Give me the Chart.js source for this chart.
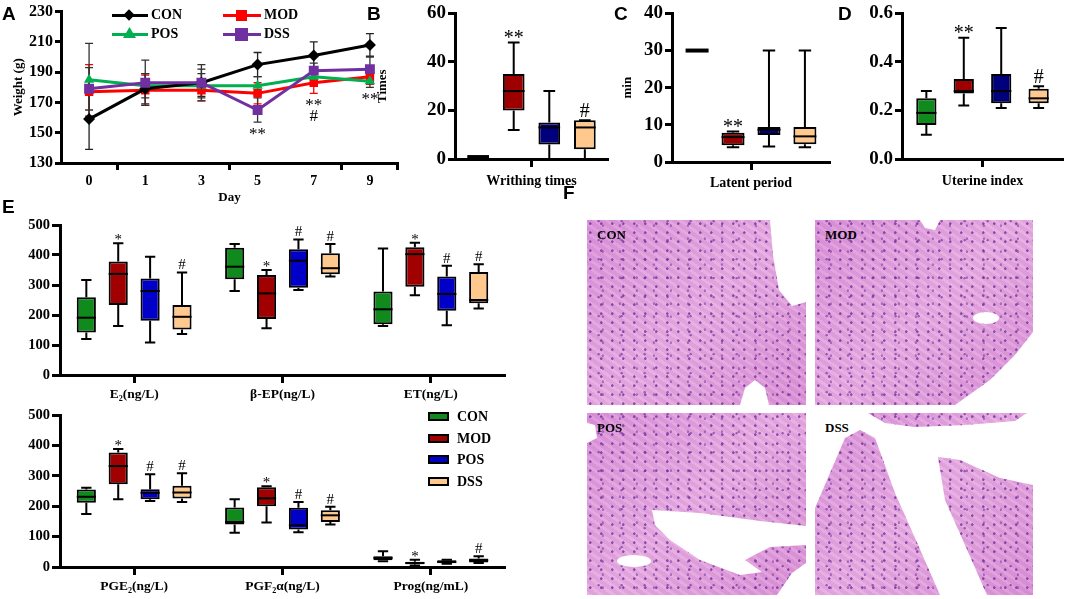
<!DOCTYPE html>
<html>
<head>
<meta charset="utf-8">
<script src="https://cdn.jsdelivr.net/npm/chart.js@4.4.1/dist/chart.umd.min.js"></script>
<style>
body { margin: 0; background: #fff; width: 1065px; height: 599px; position: relative; overflow: hidden; font-family: "Liberation Serif", "Times New Roman", serif; }
.pane { position: absolute; }
.pane canvas { display: block; }
.letter { position: absolute; font: bold 19px "Liberation Sans", Arial, sans-serif; line-height: 19px; }
.leg { position: absolute; font: bold 14px "Liberation Serif", serif; line-height: 16px; }
.lline { position: absolute; height: 3px; }
.mk { position: absolute; }
.sw { position: absolute; width: 17px; height: 5px; border: 2px solid #000; }
.tile { position: absolute; overflow: hidden; }
.tex { background:
  radial-gradient(circle at 30% 40%, rgba(110,45,150,.75) 0 1px, transparent 1.6px) 0 0/11px 9px,
  radial-gradient(circle at 70% 20%, rgba(120,55,165,.55) 0 1px, transparent 1.5px) 4px 3px/17px 13px,
  radial-gradient(circle at 20% 80%, rgba(100,40,150,.6) 0 0.9px, transparent 1.5px) 7px 5px/23px 19px,
  repeating-linear-gradient(35deg, rgba(255,255,255,.12) 0 3px, rgba(200,120,200,.12) 3px 7px),
  linear-gradient(135deg, #d98fd7, #e5a9e0 50%, #d88dd4); }
.white { position: absolute; inset: 0; background: #fff; }
.tissue { position: absolute; inset: 0; }
.tl { position: absolute; left: 10px; top: 7px; font: bold 13px "Liberation Serif", serif; }
</style>
</head>
<body>
<div class="pane" style="left:0;top:0"><canvas id="weight" width="410" height="205"></canvas></div>
<div class="pane" style="left:365px;top:0"><canvas id="writhing" width="248" height="190"></canvas></div>
<div class="pane" style="left:612px;top:0"><canvas id="latent" width="222" height="190"></canvas></div>
<div class="pane" style="left:840px;top:0"><canvas id="uterine" width="225" height="190"></canvas></div>
<div class="pane" style="left:0;top:212px"><canvas id="hormTop" width="512" height="190"></canvas></div>
<div class="pane" style="left:0;top:402px"><canvas id="hormBot" width="512" height="197"></canvas></div>

<div class="letter" style="left:2px;top:4px">A</div>
<div class="letter" style="left:367px;top:4px">B</div>
<div class="letter" style="left:614px;top:4px">C</div>
<div class="letter" style="left:838px;top:4px">D</div>
<div class="letter" style="left:2px;top:197px">E</div>
<div class="letter" style="left:563px;top:183px">F</div>

<!-- legend of panel A -->
<div class="lline" style="left:112px;top:14px;width:36px;background:#000"></div>
<div class="mk" style="left:125px;top:11px;width:8px;height:8px;background:#000;transform:rotate(45deg)"></div>
<div class="leg" style="left:151px;top:7px">CON</div>
<div class="lline" style="left:223px;top:14px;width:38px;background:#ff0000"></div>
<div class="mk" style="left:236px;top:10px;width:11px;height:11px;background:#ff0000"></div>
<div class="leg" style="left:264px;top:7px">MOD</div>
<div class="lline" style="left:112px;top:33px;width:36px;background:#00b050"></div>
<div class="mk" style="left:123px;top:27px;width:13px;height:11px;background:#00b050;clip-path:polygon(50% 0,100% 100%,0 100%)"></div>
<div class="leg" style="left:151px;top:26px">POS</div>
<div class="lline" style="left:223px;top:33px;width:38px;background:#7030a0"></div>
<div class="mk" style="left:235px;top:28px;width:13px;height:13px;background:#7030a0"></div>
<div class="leg" style="left:264px;top:26px">DSS</div>

<!-- legend of panel E -->
<div class="sw" style="left:428px;top:412px;background:#108a1c"></div>
<div class="leg" style="left:457px;top:409px">CON</div>
<div class="sw" style="left:428px;top:434px;background:#a00000"></div>
<div class="leg" style="left:457px;top:431px">MOD</div>
<div class="sw" style="left:428px;top:455px;background:#0000c8"></div>
<div class="leg" style="left:457px;top:452px">POS</div>
<div class="sw" style="left:428px;top:477px;background:#ffc88c"></div>
<div class="leg" style="left:457px;top:474px">DSS</div>

<!-- panel F: tissue sections -->
<div class="tile tex" style="left:587px;top:220px;width:219px;height:185px">
  <div class="white" style="clip-path:polygon(183px 0,219px 0,219px 82px,205px 86px,192px 70px,186px 35px)"></div>
  <div class="white" style="clip-path:polygon(153px 185px,158px 168px,168px 160px,178px 168px,182px 185px)"></div>
  <span class="tl">CON</span>
</div>
<div class="tile tex" style="left:815px;top:220px;width:218px;height:185px">
  <div class="white" style="clip-path:polygon(105px 0,125px 0,120px 10px,110px 8px)"></div>
  <div class="white" style="clip-path:ellipse(13px 6px at 171px 98px)"></div>
  <div class="white" style="clip-path:polygon(218px 112px,218px 185px,140px 185px,175px 160px,200px 135px)"></div>
  <span class="tl">MOD</span>
</div>
<div class="tile tex" style="left:587px;top:413px;width:219px;height:182px">
  <div class="white" style="clip-path:polygon(65px 97px,113px 100px,173px 108px,219px 113px,219px 132px,183px 134px,158px 147px,175px 159px,153px 162px,113px 147px,83px 127px,68px 112px)"></div>
  <div class="white" style="clip-path:ellipse(17px 6px at 47px 148px)"></div>
  <div class="white" style="clip-path:polygon(0 10px,8px 12px,10px 25px,0 30px)"></div>
  <div class="white" style="clip-path:polygon(190px 182px,205px 160px,219px 150px,219px 182px)"></div>
  <span class="tl">POS</span>
</div>
<div class="tile" style="left:815px;top:413px;width:218px;height:182px;background:#fff">
  <div class="tissue tex" style="clip-path:polygon(53px 0,212px 0,200px 8px,150px 12px,100px 14px,70px 10px)"></div>
  <div class="tissue tex" style="clip-path:polygon(0 95px,30px 25px,45px 17px,60px 25px,80px 80px,100px 125px,125px 182px,0 182px)"></div>
  <div class="tissue tex" style="clip-path:polygon(123px 44px,145px 47px,185px 65px,218px 72px,218px 182px,172px 182px,150px 132px,130px 87px)"></div>
  <span class="tl">DSS</span>
</div>

<script>
// groups and weights (mean and SD) for panel A
const groups = ['CON', 'MOD', 'POS', 'DSS'];
const days = ['0', '1', '3', '5', '7', '9'];
const conWeight = [159, 179, 183, 195, 201, 208];
const conSd = [20, 10, 9, 8, 9, 7.5];
const modWeight = [177, 178, 178, 176, 183, 187];
const modSd = [18, 10, 7, 7, 7, 5];
const posWeight = [185, 181, 181, 181, 187, 184];
const posSd = [24, 8, 8, 6, 5, 4];
const dssWeight = [179, 183, 183, 165, 191, 192];
const dssSd = [14, 15, 12, 8, 5, 8];
const weightMarks = ['', '', '', '**', '**|#', '**'];

// box plots: [min, q1, median, q3, max] for CON, MOD, POS, DSS
const writhing = [[0.8, 0.8, 0.8, 0.8, 0.8], [12, 20, 28, 35, 48], [0, 6, 13, 15, 28], [0, 4, 13, 16, 16]];
const latent = [[30, 30, 30, 30, 30], [4, 4.5, 6.7, 7.9, 8.2], [4.2, 7.3, 8.7, 9.4, 30], [4, 4.8, 6.9, 9.4, 30]];
const uterine = [[0.10, 0.14, 0.19, 0.25, 0.28], [0.22, 0.27, 0.28, 0.33, 0.50], [0.21, 0.23, 0.28, 0.35, 0.54], [0.21, 0.23, 0.25, 0.29, 0.30]];
const e2 = [[120, 142, 191, 259, 317], [163, 233, 337, 378, 439], [108, 181, 280, 322, 394], [137, 152, 194, 233, 342]];
const bep = [[280, 319, 361, 424, 437], [156, 187, 272, 333, 350], [283, 291, 381, 419, 452], [328, 336, 356, 406, 437]];
const et = [[163, 169, 219, 278, 422], [266, 294, 403, 426, 441], [166, 214, 270, 328, 364], [222, 239, 250, 343, 369]];
const pge2 = [[174, 211, 231, 255, 261], [223, 272, 332, 377, 388], [217, 223, 244, 256, 305], [214, 225, 245, 267, 308]];
const pgf2a = [[113, 140, 148, 196, 223], [146, 200, 226, 262, 266], [114, 123, 137, 195, 214], [140, 148, 170, 187, 198]];
const prog = [[19, 22, 30, 35, 52], [5, 9, 13, 17, 24], [11, 12, 17, 22, 24], [13, 15, 22, 28, 35]];

const topLabels = ['E₂(ng/L)', 'β-EP(ng/L)', 'ET(ng/L)'];
const botLabels = ['PGE₂(ng/L)', 'PGF₂α(ng/L)', 'Prog(ng/mL)'];

// significance marks per group (one entry per category)
const writhingMarks = [[''], ['**'], [''], ['#']];
const latentMarks = [[''], ['**'], [''], ['']];
const uterineMarks = [[''], ['**'], [''], ['#']];
const topMarks = [['', '', ''], ['*', '*', '*'], ['', '#', '#'], ['#', '#', '#']];
const botMarks = [['', '', ''], ['*', '*', '*'], ['#', '#', ''], ['#', '#', '#']];

const boxColors = ['#108a1c', '#9e0000', '#00007d', '#ffc88c'];
const eColors = ['#108a1c', '#a00000', '#0000c8', '#ffc88c'];

Chart.defaults.font.family = '"Liberation Serif", "Times New Roman", serif';
Chart.defaults.font.weight = 'bold';
Chart.defaults.color = '#000';
Chart.defaults.animation = false;
Chart.defaults.plugins.legend.display = false;
Chart.defaults.plugins.tooltip.enabled = false;

// whiskers, medians and marks for the floating bars
const boxPlugin = {
  id: 'boxes',
  afterDatasetsDraw(chart, args, opts) {
    const ctx = chart.ctx, y = chart.scales.y;
    const py = v => y.getPixelForValue(v);
    chart.data.datasets.forEach((ds, di) => {
      chart.getDatasetMeta(di).data.forEach((bar, i) => {
        const s = ds.stats[i];
        const x = bar.x, w = bar.width;
        ctx.save();
        ctx.strokeStyle = '#000';
        ctx.lineWidth = 2;
        ctx.beginPath();
        ctx.moveTo(x, py(s[3])); ctx.lineTo(x, py(s[4]));
        ctx.moveTo(x, py(s[1])); ctx.lineTo(x, py(s[0]));
        ctx.moveTo(x - w * 0.27, py(s[4])); ctx.lineTo(x + w * 0.27, py(s[4]));
        ctx.moveTo(x - w * 0.27, py(s[0])); ctx.lineTo(x + w * 0.27, py(s[0]));
        ctx.stroke();
        ctx.lineWidth = s[1] === s[3] ? 4 : 2;
        ctx.beginPath();
        ctx.moveTo(x - w / 2, py(s[2])); ctx.lineTo(x + w / 2, py(s[2]));
        ctx.stroke();
        const m = ds.marks[i];
        if (m) {
          ctx.fillStyle = '#000';
          ctx.font = opts.markSize + 'px "Liberation Serif"';
          ctx.textAlign = 'center';
          ctx.fillText(m, x, py(s[4]) + (m.indexOf('#') >= 0 ? -3 : 1));
        }
        ctx.restore();
      });
    });
  }
};

// SD bars and marks for the weight curves
const errorBars = {
  id: 'errorBars',
  beforeDatasetsDraw(chart) {
    const ctx = chart.ctx, y = chart.scales.y;
    chart.data.datasets.forEach((ds, di) => {
      chart.getDatasetMeta(di).data.forEach((pt, i) => {
        const top = y.getPixelForValue(ds.data[i] + ds.sd[i]);
        const bot = y.getPixelForValue(ds.data[i] - ds.sd[i]);
        ctx.save();
        ctx.strokeStyle = ds.errColor;
        ctx.lineWidth = 1.3;
        ctx.beginPath();
        ctx.moveTo(pt.x, top); ctx.lineTo(pt.x, bot);
        ctx.moveTo(pt.x - 4, top); ctx.lineTo(pt.x + 4, top);
        ctx.moveTo(pt.x - 4, bot); ctx.lineTo(pt.x + 4, bot);
        ctx.stroke();
        ctx.restore();
      });
    });
  },
  afterDatasetsDraw(chart, args, opts) {
    const ctx = chart.ctx, y = chart.scales.y;
    const sets = chart.data.datasets;
    opts.marks.forEach((m, i) => {
      if (!m) return;
      const low = Math.min(...sets.map(ds => ds.data[i] - ds.sd[i]));
      const x = chart.getDatasetMeta(0).data[i].x;
      const by = y.getPixelForValue(low) + 17;
      ctx.save();
      ctx.fillStyle = '#000';
      ctx.font = '17px "Liberation Serif"';
      ctx.textAlign = 'center';
      m.split('|').forEach((t, k) => ctx.fillText(t, x, by + k * 11));
      ctx.restore();
    });
  }
};

function axisX(size, height, pad) {
  return {
    grid: { offset: false, drawOnChartArea: false, color: '#000', tickLength: 8, tickWidth: 3 },
    border: { width: 3, color: '#000' },
    ticks: { font: { size: size }, padding: pad, maxRotation: 0, autoSkip: false },
    afterFit(s) { s.height = height; }
  };
}

function axisY(min, max, step, size, width, tickLen, title, tpad) {
  return {
    min: min, max: max,
    grid: { drawOnChartArea: false, color: '#000', tickLength: tickLen, tickWidth: 3 },
    border: { width: 3, color: '#000' },
    ticks: { stepSize: step, font: { size: size }, padding: 2,
      callback: v => step < 1 ? v.toFixed(1) : v },
    title: title ? { display: true, text: title, font: { size: 13 }, padding: { top: tpad } } : { display: false },
    afterFit(s) { s.width = width; }
  };
}

function makeBox(id, labels, cats, colors, marks, o) {
  return new Chart(document.getElementById(id), {
    type: 'bar',
    data: {
      labels: labels,
      datasets: groups.map((g, gi) => ({
        label: g,
        data: cats.map(c => [c[gi][1], c[gi][3]]),
        stats: cats.map(c => c[gi]),
        marks: marks[gi],
        backgroundColor: colors[gi],
        borderColor: '#000',
        borderWidth: 2,
        borderSkipped: false,
        categoryPercentage: o.cat,
        barPercentage: o.bar
      }))
    },
    options: {
      responsive: false,
      layout: { padding: o.pad },
      scales: { x: axisX(o.xSize, o.xH, o.xPad), y: o.y },
      plugins: { boxes: { markSize: o.mark } }
    },
    plugins: [boxPlugin]
  });
}

// panel A
new Chart(document.getElementById('weight'), {
  type: 'line',
  data: {
    labels: days,
    datasets: [
      { label: 'CON', data: conWeight, sd: conSd, errColor: '#222', borderColor: '#000', backgroundColor: '#000',
        pointStyle: 'rectRot', pointRadius: 6, order: 2 },
      { label: 'MOD', data: modWeight, sd: modSd, errColor: '#ff0000', borderColor: '#ff0000', backgroundColor: '#ff0000',
        pointStyle: 'rect', pointRadius: 6, order: 4 },
      { label: 'POS', data: posWeight, sd: posSd, errColor: '#333', borderColor: '#00b050', backgroundColor: '#00b050',
        pointStyle: 'triangle', pointRadius: 6, order: 3 },
      { label: 'DSS', data: dssWeight, sd: dssSd, errColor: '#333', borderColor: '#7030a0', backgroundColor: '#7030a0',
        pointStyle: 'rect', pointRadius: 7, order: 1 }
    ].map(d => Object.assign(d, { borderWidth: 3, tension: 0, pointBorderWidth: 0 }))
  },
  options: {
    responsive: false,
    layout: { padding: { top: 11, right: 12 } },
    scales: {
      x: {
        offset: true,
        grid: { offset: true, drawOnChartArea: false, tickLength: 7, tickWidth: 3,
          tickColor: c => (c.index === undefined || c.index % 2 === 1) ? '#000' : 'rgba(0,0,0,0)' },
        border: { width: 3, color: '#000' },
        ticks: { font: { size: 14 }, padding: 3 },
        title: { display: true, text: 'Day', font: { size: 13 }, padding: { bottom: 0 } },
        afterFit(s) { s.height = 42; }
      },
      y: axisY(130, 230, 20, 16, 61, 6, 'Weight (g)', 11)
    },
    plugins: { errorBars: { marks: weightMarks } }
  },
  plugins: [errorBars]
});

// panels B, C, D
makeBox('writhing', ['Writhing times'], [writhing], boxColors, writhingMarks, {
  cat: 0.93, bar: 0.61, pad: { top: 10, right: 5 }, xSize: 14, xH: 31, xPad: 6, mark: 20,
  y: axisY(0, 60, 20, 19, 90, 7, 'Times', 10)
});
makeBox('latent', ['Latent period'], [latent], boxColors, latentMarks, {
  cat: 0.91, bar: 0.64, pad: { top: 13, right: 4 }, xSize: 14, xH: 28, xPad: 5, mark: 20,
  y: axisY(0, 40, 10, 19, 60, 7, 'min', 8)
});
makeBox('uterine', ['Uterine index'], [uterine], boxColors, uterineMarks, {
  cat: 0.93, bar: 0.54, pad: { top: 13, right: 2 }, xSize: 14, xH: 31, xPad: 6, mark: 20,
  y: axisY(0, 0.6, 0.2, 19, 62, 7, null, 0)
});

// panel E
makeBox('hormTop', topLabels, [e2, bep, et], eColors, topMarks, {
  cat: 0.86, bar: 0.6, pad: { top: 13, right: 7 }, xSize: 13.5, xH: 27, xPad: 3, mark: 15,
  y: axisY(0, 500, 100, 14.5, 60, 8)
});
makeBox('hormBot', botLabels, [pge2, pgf2a, prog], eColors, botMarks, {
  cat: 0.86, bar: 0.6, pad: { top: 13, right: 7 }, xSize: 13.5, xH: 32, xPad: 3, mark: 15,
  y: axisY(0, 500, 100, 14.5, 60, 8)
});
</script>
</body>
</html>
